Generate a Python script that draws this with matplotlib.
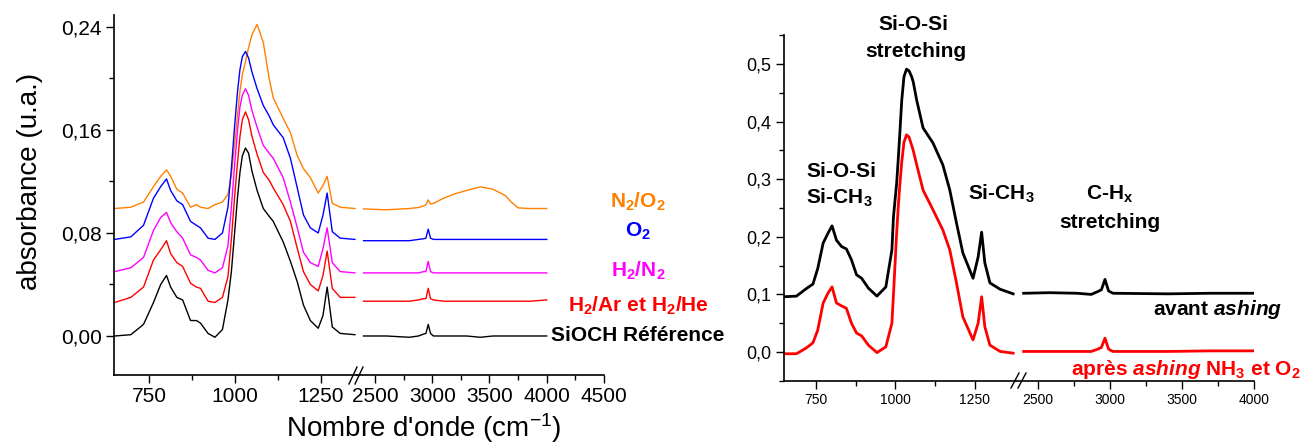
import matplotlib
matplotlib.use('Agg')
import matplotlib.pyplot as plt
from matplotlib.lines import Line2D
from matplotlib.ticker import FixedLocator, FuncFormatter

plt.rcParams['font.family'] = 'Liberation Sans'
plt.rcParams['mathtext.fontset'] = 'custom'
plt.rcParams['mathtext.rm'] = 'Liberation Sans'
plt.rcParams['mathtext.it'] = 'Liberation Sans:italic'
plt.rcParams['mathtext.bf'] = 'Liberation Sans:bold'
plt.rcParams['mathtext.bfit'] = 'Liberation Sans:italic:bold'

# ---- left panel: plasma treatments (absorbance, offset curves) ----
wn_lo = [650, 697, 734, 763, 784, 801, 813, 831, 848, 871, 888, 900, 922, 942, 964, 980,
         990, 1000, 1008, 1015, 1022, 1031, 1040, 1050, 1065, 1083, 1100, 1112, 1141, 1162,
         1182, 1200, 1220, 1243, 1257, 1269, 1284, 1307, 1350]
ref_lo = [0.000, 0.001, 0.009, 0.026, 0.040, 0.047, 0.038, 0.030, 0.028, 0.012, 0.012, 0.010,
          0.002, -0.001, 0.005, 0.028, 0.050, 0.082, 0.108, 0.127, 0.140, 0.146, 0.142, 0.128,
          0.113, 0.099, 0.093, 0.089, 0.073, 0.058, 0.042, 0.024, 0.012, 0.006, 0.016, 0.038,
          0.007, 0.002, 0.001]
har_lo = [0.026, 0.030, 0.038, 0.059, 0.067, 0.074, 0.064, 0.057, 0.054, 0.041, 0.038, 0.037,
          0.027, 0.026, 0.030, 0.046, 0.075, 0.110, 0.135, 0.155, 0.168, 0.174, 0.168, 0.155,
          0.141, 0.127, 0.121, 0.115, 0.102, 0.089, 0.068, 0.050, 0.040, 0.035, 0.047, 0.066,
          0.037, 0.030, 0.030]
hn2_lo = [0.050, 0.053, 0.061, 0.082, 0.092, 0.096, 0.088, 0.081, 0.076, 0.063, 0.061, 0.059,
          0.051, 0.049, 0.053, 0.070, 0.100, 0.135, 0.160, 0.178, 0.187, 0.192, 0.187, 0.175,
          0.162, 0.148, 0.142, 0.138, 0.123, 0.104, 0.084, 0.065, 0.057, 0.054, 0.068, 0.084,
          0.057, 0.050, 0.049]
o2_lo = [0.075, 0.077, 0.086, 0.107, 0.116, 0.122, 0.113, 0.105, 0.102, 0.089, 0.086, 0.084,
         0.076, 0.075, 0.080, 0.100, 0.130, 0.165, 0.190, 0.207, 0.217, 0.221, 0.216, 0.205,
         0.192, 0.179, 0.171, 0.164, 0.154, 0.138, 0.115, 0.094, 0.084, 0.080, 0.094, 0.111,
         0.081, 0.076, 0.075]
n2o2_lo = [0.099, 0.100, 0.104, 0.116, 0.124, 0.129, 0.124, 0.114, 0.111, 0.100, 0.102, 0.100,
           0.099, 0.102, 0.104, 0.110, 0.125, 0.150, 0.172, 0.190, 0.203, 0.213, 0.224, 0.234,
           0.242, 0.228, 0.200, 0.185, 0.169, 0.158, 0.140, 0.130, 0.123, 0.111, 0.117, 0.124,
           0.103, 0.100, 0.099]

wn_hi = [2400, 2600, 2800, 2880, 2925, 2945, 2965, 2985, 3010, 3100, 3200, 3300, 3420, 3530,
         3640, 3690, 3750, 3850, 4000]
ref_hi = [0.000, 0.000, -0.001, 0.000, 0.0015, 0.002, 0.009, 0.002, 0.000, 0.000, 0.000, 0.000,
          -0.001, 0.000, 0.000, 0.000, 0.000, 0.000, 0.000]
har_hi = [0.027, 0.027, 0.027, 0.028, 0.029, 0.029, 0.037, 0.029, 0.028, 0.027, 0.027, 0.027,
          0.027, 0.027, 0.027, 0.027, 0.027, 0.027, 0.028]
hn2_hi = [0.049, 0.049, 0.049, 0.049, 0.050, 0.050, 0.058, 0.050, 0.049, 0.049, 0.049, 0.049,
          0.049, 0.049, 0.049, 0.049, 0.049, 0.049, 0.049]
o2_hi = [0.074, 0.074, 0.074, 0.075, 0.0755, 0.076, 0.083, 0.076, 0.075, 0.075, 0.075, 0.075,
         0.075, 0.075, 0.075, 0.075, 0.075, 0.075, 0.075]
n2o2_hi = [0.0987, 0.098, 0.099, 0.0998, 0.101, 0.102, 0.1057, 0.1025, 0.103, 0.107, 0.1105,
           0.113, 0.1158, 0.114, 0.109, 0.104, 0.0995, 0.099, 0.099]

names = ['N$_\\mathbf{2}$/O$_\\mathbf{2}$', 'O$_\\mathbf{2}$', 'H$_\\mathbf{2}$/N$_\\mathbf{2}$',
         'H$_\\mathbf{2}$/Ar et H$_\\mathbf{2}$/He', 'SiOCH Référence']
colors = ['#FF8000', '#0000FF', '#FF00FF', '#FF0000', '#000000']
series_lo = [n2o2_lo, o2_lo, hn2_lo, har_lo, ref_lo]
series_hi = [n2o2_hi, o2_hi, hn2_hi, har_hi, ref_hi]

# ---- right panel: before / after ashing ----
wn_r = [650, 689, 720, 741, 756, 773, 788, 801, 815, 831, 846, 862, 878, 894, 915, 942, 970,
        989, 994, 1004, 1009, 1014, 1020, 1027, 1035, 1043, 1051, 1056, 1067, 1087, 1118, 1149,
        1171, 1192, 1212, 1244, 1260, 1271, 1281, 1297, 1329, 1370]
avant_lo = [0.096, 0.097, 0.110, 0.118, 0.145, 0.189, 0.206, 0.219, 0.194, 0.183, 0.179, 0.160,
            0.134, 0.128, 0.111, 0.097, 0.113, 0.177, 0.235, 0.293, 0.335, 0.380, 0.437, 0.478,
            0.491, 0.488, 0.478, 0.469, 0.437, 0.389, 0.363, 0.325, 0.281, 0.224, 0.172, 0.128,
            0.165, 0.208, 0.155, 0.120, 0.109, 0.101]
apres_lo = [-0.003, -0.003, 0.007, 0.016, 0.038, 0.085, 0.102, 0.113, 0.085, 0.080, 0.076, 0.050,
            0.033, 0.028, 0.012, -0.001, 0.009, 0.050, 0.100, 0.207, 0.252, 0.290, 0.330, 0.364,
            0.377, 0.373, 0.359, 0.350, 0.325, 0.281, 0.247, 0.212, 0.177, 0.120, 0.061, 0.021,
            0.050, 0.096, 0.044, 0.012, 0.001, -0.002]
wn_r_hi = [2400, 2580, 2770, 2870, 2915, 2940, 2965, 2990, 3020, 3400, 3700, 4000]
avant_hi = [0.102, 0.103, 0.102, 0.100, 0.105, 0.108, 0.126, 0.106, 0.102, 0.101, 0.102, 0.102]
apres_hi = [0.001, 0.001, 0.001, 0.001, 0.005, 0.008, 0.024, 0.005, 0.001, 0.001, 0.002, 0.002]

W, H = 1301, 446
fig = plt.figure(figsize=(W / 100, H / 100), dpi=100)


def box(x0, x1, y0, y1):
    return [x0 / W, 1 - y1 / H, (x1 - x0) / W, (y1 - y0) / H]


def fx(px):
    return px / W


def fy(py):
    return 1 - py / H


def setup(ax, xlim, ylim, major, minor, xfs, first, ylen=6):
    ax.set_xlim(*xlim)
    ax.set_ylim(*ylim)
    ax.spines['top'].set_visible(False)
    ax.spines['right'].set_visible(False)
    for s in ax.spines.values():
        s.set_linewidth(1.2)
    ax.xaxis.set_major_locator(FixedLocator(major))
    ax.xaxis.set_minor_locator(FixedLocator(minor))
    ax.tick_params(axis='x', which='major', direction='out', length=ylen, width=1.0,
                   labelsize=xfs, pad=3)
    ax.tick_params(axis='x', which='minor', direction='out', length=ylen * 0.55, width=1.0)
    if not first:
        ax.spines['left'].set_visible(False)
        ax.tick_params(axis='y', which='both', left=False, labelleft=False)


comma2 = FuncFormatter(lambda v, p: f'{v:.2f}'.replace('.', ','))
comma1 = FuncFormatter(lambda v, p: f'{v:.1f}'.replace('.', ','))

# left panel
a1 = fig.add_axes(box(114, 357, 15, 375))
a2 = fig.add_axes(box(357, 604, 15, 375))
ylim_a = (-0.0303, 0.2493)
setup(a1, (648, 1356), ylim_a, [750, 1000, 1250], [875, 1125], 15, True)
setup(a2, (2343, 4500), ylim_a, [2500, 3000, 3500, 4000, 4500], [2750, 3250, 3750, 4250], 15, False)
a1.yaxis.set_major_locator(FixedLocator([0, 0.08, 0.16, 0.24]))
a1.yaxis.set_minor_locator(FixedLocator([0.04, 0.12, 0.20]))
a1.yaxis.set_major_formatter(comma2)
a1.tick_params(axis='y', which='major', direction='out', length=6, width=1.0, labelsize=15, pad=3)
a1.tick_params(axis='y', which='minor', direction='out', length=3.3, width=1.0)

for ylo, yhi, c in zip(series_lo, series_hi, colors):
    a1.plot(wn_lo, ylo, color=c, lw=1.0)
    a2.plot(wn_hi, yhi, color=c, lw=1.0)

label_base = [208, 237, 277, 312, 341]
for name, c, yb in zip(names, colors, label_base):
    fig.text(fx(638), fy(yb), name, color=c, fontsize=15, fontweight='bold',
             ha='center', va='baseline')

fig.text(fx(30), fy(181), 'absorbance (u.a.)', rotation=90, fontsize=20,
         ha='center', va='center')
fig.text(fx(424), fy(437), "Nombre d'onde (cm$^{\\mathrm{-1}}$)", fontsize=20,
         ha='center', va='baseline')

# right panel
b1 = fig.add_axes(box(784, 1016, 35, 381))
b2 = fig.add_axes(box(1016, 1254, 35, 381))
ylim_b = (-0.0503, 0.5503)
setup(b1, (650, 1379), ylim_b, [750, 1000, 1250], [875, 1125], 10, True)
setup(b2, (2347, 4000), ylim_b, [2500, 3000, 3500, 4000], [2750, 3250, 3750], 10, False)
b1.yaxis.set_major_locator(FixedLocator([0.0, 0.1, 0.2, 0.3, 0.4, 0.5]))
b1.yaxis.set_minor_locator(FixedLocator([-0.05, 0.05, 0.15, 0.25, 0.35, 0.45, 0.55]))
b1.yaxis.set_major_formatter(comma1)
b1.tick_params(axis='y', which='major', direction='out', length=6, width=1.0, labelsize=13, pad=3)
b1.tick_params(axis='y', which='minor', direction='out', length=3.3, width=1.0)

b1.plot(wn_r, avant_lo, color='black', lw=2.0)
b1.plot(wn_r, apres_lo, color='#FF0000', lw=2.0)
b2.plot(wn_r_hi, avant_hi, color='black', lw=2.0)
b2.plot(wn_r_hi, apres_hi, color='#FF0000', lw=2.0)

bold = dict(fontsize=15, fontweight='bold', va='baseline')
fig.text(fx(913), fy(30), 'Si-O-Si', ha='center', **bold)
fig.text(fx(916), fy(57), 'stretching', ha='center', **bold)
fig.text(fx(806), fy(177), 'Si-O-Si', ha='left', **bold)
fig.text(fx(806), fy(204), 'Si-CH$_\\mathbf{3}$', ha='left', **bold)
fig.text(fx(968), fy(200), 'Si-CH$_\\mathbf{3}$', ha='left', **bold)
fig.text(fx(1110), fy(200), 'C-H$_\\mathbf{x}$', ha='center', **bold)
fig.text(fx(1110), fy(228), 'stretching', ha='center', **bold)
fig.text(fx(1282), fy(315), 'avant $\\mathbfit{ashing}$', ha='right', **bold)
fig.text(fx(1071), fy(375), 'après $\\mathbfit{ashing}$ NH$_\\mathbf{3}$ et O$_\\mathbf{2}$',
         ha='left', color='#FF0000', **bold)

# axis break marks
for xa, y0, y1 in [(349, 384, 367), (355, 384, 367), (1011, 388, 373), (1018, 388, 373)]:
    fig.add_artist(Line2D([fx(xa), fx(xa + 8)], [fy(y0), fy(y1)], color='black', lw=1.0))

fig.savefig('out.png', dpi=100)
